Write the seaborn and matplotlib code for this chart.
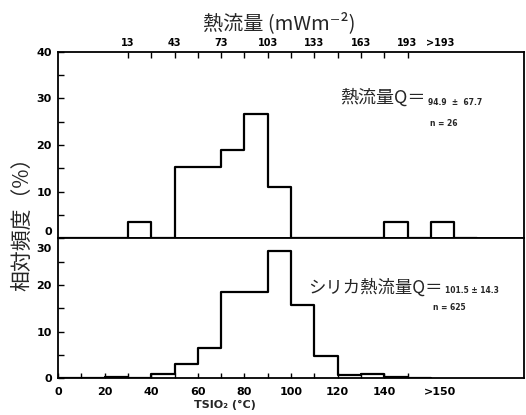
import numpy as np
import pandas as pd
import matplotlib
matplotlib.use("Agg")
import matplotlib.pyplot as plt
import matplotlib.transforms as mtransforms
import seaborn as sns

# ---------------- data ----------------
# upper panel: heat flow (bin left edges in TSiO2 scale, relative frequency %)
top_bin_left = [30, 50, 60, 70, 80, 90, 140, 160]
top_percent = [3.5, 15.3, 15.3, 19.0, 26.7, 11.1, 3.4, 3.4]

# lower panel: silica heat flow
bottom_bin_left = [20, 40, 50, 60, 70, 80, 90, 100, 110, 120, 130, 140]
bottom_percent = [0.3, 1.0, 3.1, 6.6, 18.5, 18.5, 27.3, 15.8, 4.8, 0.7, 1.0, 0.2]

bin_width = 10

# tick labels
top_tick_pos = [30, 50, 70, 90, 110, 130, 150, 164]
top_tick_labels = ["13", "43", "73", "103", "133", "163", "193", ">193"]
bottom_tick_pos = [0, 20, 40, 60, 80, 100, 120, 140, 164]
bottom_tick_labels = ["0", "20", "40", "60", "80", "100", "120", "140", ">150"]

top_df = pd.DataFrame({"t": np.array(top_bin_left) + bin_width / 2, "w": top_percent})
bot_df = pd.DataFrame({"t": np.array(bottom_bin_left) + bin_width / 2, "w": bottom_percent})

# ---------------- style ----------------
sns.set_theme(style="ticks")
plt.rcParams["font.family"] = ["DejaVu Sans"]
CJK = ["Noto Sans CJK JP", "DejaVu Sans"]

W, H = 526, 415
fig = plt.figure(figsize=(W / 100, H / 100), dpi=100)
fig.patch.set_facecolor("white")

left, right = 58, 524
y_top, y_mid, y_bot = 51.7, 238.3, 378.3
ax_top = fig.add_axes([left / W, 1 - y_mid / H, (right - left) / W, (y_mid - y_top) / H])
ax_bot = fig.add_axes([left / W, 1 - y_bot / H, (right - left) / W, (y_bot - y_mid) / H])

line_kw = dict(element="step", fill=False, color="black", linewidth=1.6, stat="count")
sns.histplot(data=top_df, x="t", weights="w", bins=list(range(0, 181, 10)), ax=ax_top, **line_kw)
sns.histplot(data=bot_df, x="t", weights="w", bins=list(range(0, 161, 10)), ax=ax_bot, **line_kw)

for ax in (ax_top, ax_bot):
    ax.set_facecolor("white")
    ax.set_xlim(0, 200)
    ax.set_xlabel("")
    ax.set_ylabel("")
    for s in ax.spines.values():
        s.set_visible(True)
        s.set_linewidth(1.3)
        s.set_color("black")

# upper panel axes
ax_top.set_ylim(0, 40)
ax_top.set_yticks([0, 10, 20, 30, 40], ["0", "10", "20", "30", "40"],
                  fontsize=8, fontweight="bold")
ax_top.set_yticks([5, 15, 25, 35], minor=True)
ax_top.xaxis.tick_top()
ax_top.set_xticks(top_tick_pos, top_tick_labels, fontsize=7, fontweight="bold")
ax_top.set_xticks(list(range(40, 150, 20)), minor=True)
ax_top.tick_params(axis="x", which="both", direction="in", top=True, bottom=False,
                   labeltop=True, labelbottom=False, length=4, width=1, pad=2.5, colors="black")
ax_top.tick_params(axis="y", which="both", direction="in", left=True, right=False,
                   length=4, width=1, pad=4.5, colors="black")

# lower panel axes
ax_bot.set_ylim(0, 30)
ax_bot.set_yticks([0, 10, 20, 30], ["0", "10", "20", "30"], fontsize=8, fontweight="bold")
ax_bot.set_yticks([5, 15, 25], minor=True)
ax_bot.set_xticks(bottom_tick_pos, bottom_tick_labels, fontsize=8, fontweight="bold")
ax_bot.set_xticks(list(range(10, 160, 20)), minor=True)
ax_bot.tick_params(axis="x", which="both", direction="in", top=False, bottom=True,
                   length=3.5, width=1, pad=6, colors="black")
ax_bot.tick_params(axis="y", which="both", direction="in", left=True, right=False,
                   length=4, width=1, pad=4.5, colors="black")

fig.canvas.draw()
# hide tick marks of the ">" labels
ax_top.xaxis.get_major_ticks()[-1].tick2line.set_visible(False)
ax_bot.xaxis.get_major_ticks()[-1].tick1line.set_visible(False)
# nudge labels at the shared border away from it
up = mtransforms.ScaledTranslation(0, 0.07, fig.dpi_scale_trans)
down = mtransforms.ScaledTranslation(0, -0.10, fig.dpi_scale_trans)
lbl = ax_top.yaxis.get_major_ticks()[0].label1
lbl.set_transform(lbl.get_transform() + up)
lbl = ax_bot.yaxis.get_major_ticks()[-1].label1
lbl.set_transform(lbl.get_transform() + down)

# ---------------- texts ----------------
def ft(x, y, s, **kw):
    fig.text(x / W, 1 - y / H, s, **kw)

ft(279, 23, "熱流量 (mWm⁻²)", ha="center", va="center", fontsize=14.5, family=CJK)
ft(22, 218.5, "相対頻度（%）", ha="center", va="center", rotation=90, fontsize=15, family=CJK)
ft(225, 405, "TSIO₂ (°C)", ha="center", va="center", fontsize=8, fontweight="bold")

ft(340, 98, "熱流量Q＝", ha="left", va="center", fontsize=13, family=CJK)
ft(428, 102.5, "94.9  ±  67.7", ha="left", va="center", fontsize=5.5, fontweight="bold")
ft(430, 123, "n = 26", ha="left", va="center", fontsize=5.5, fontweight="bold")

ft(308, 288, "シリカ熱流量Q＝", ha="left", va="center", fontsize=12.5, family=CJK)
ft(445, 290, "101.5 ± 14.3", ha="left", va="center", fontsize=5.5, fontweight="bold")
ft(433, 307, "n = 625", ha="left", va="center", fontsize=5.5, fontweight="bold")

fig.savefig("out.png", dpi=100, facecolor="white")
